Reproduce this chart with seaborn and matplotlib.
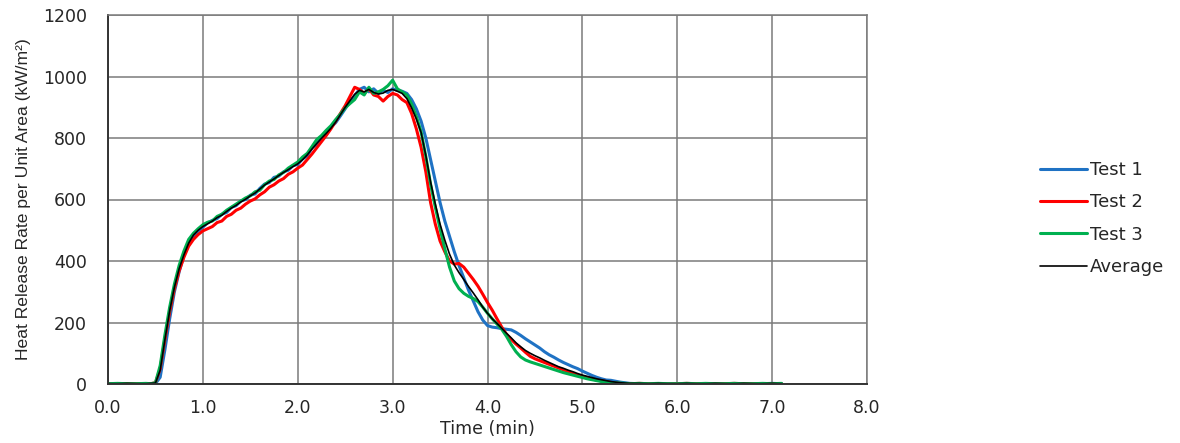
import matplotlib
matplotlib.use("Agg")
import matplotlib.pyplot as plt
import seaborn as sns
import pandas as pd

# ---- data ----
time_min = [0.0, 0.1, 0.2, 0.3, 0.4, 0.45,
            0.50, 0.55, 0.60, 0.65, 0.70, 0.75, 0.80, 0.85, 0.90, 0.95,
            1.00, 1.05, 1.10, 1.15, 1.20, 1.25, 1.30, 1.35, 1.40, 1.45,
            1.50, 1.55, 1.60, 1.65, 1.70, 1.75, 1.80, 1.85, 1.90, 1.95,
            2.00, 2.05, 2.10, 2.15, 2.20, 2.25, 2.30, 2.35, 2.40, 2.45,
            2.50, 2.55, 2.60, 2.65, 2.70, 2.75, 2.80, 2.85, 2.90, 2.95,
            3.00, 3.05, 3.10, 3.15, 3.20, 3.25, 3.30, 3.35, 3.40, 3.45,
            3.50, 3.55, 3.60, 3.65, 3.70, 3.75, 3.80, 3.85, 3.90, 3.95,
            4.00, 4.05, 4.10, 4.15, 4.20, 4.25, 4.30, 4.35, 4.40, 4.45,
            4.50, 4.55, 4.60, 4.65, 4.70, 4.75, 4.80, 4.85, 4.90, 4.95,
            5.00, 5.05, 5.10, 5.15, 5.20, 5.25, 5.30, 5.35, 5.40, 5.45,
            5.5, 5.6, 5.7, 5.8, 5.9, 6.0, 6.1, 6.2, 6.3, 6.4, 6.5, 6.6, 6.7, 6.8, 6.9, 7.0, 7.1]

test1 = [0, 1, 0, 1, 0, 1,
         1, 22, 112, 212, 300, 365, 418, 456, 480, 497,
         510, 524, 532, 538, 552, 558, 574, 580, 595, 600,
         614, 618, 636, 650, 655, 672, 676, 690, 695, 710,
         714, 732, 742, 768, 780, 802, 812, 835, 850, 872,
         895, 918, 938, 958, 965, 950, 960, 945, 955, 948,
         960, 955, 952, 945, 925, 895, 855, 800, 730, 660,
         590, 530, 480, 430, 385, 345, 305, 270, 235, 208,
         190, 185, 183, 180, 178, 176, 168, 158, 147, 137,
         127, 117, 105, 95, 87, 78, 70, 63, 56, 50,
         42, 35, 28, 22, 17, 13, 12, 9, 6, 4,
         2, 1, 1, 0, 1, 1, 0, 1, 1, 0, 1, 1, 0, 1, 1, 2, 1]

test2 = [1, 0, 1, 1, 0, 1,
         4, 50, 145, 235, 310, 368, 412, 448, 470, 486,
         498, 505, 512, 525, 530, 545, 552, 565, 572, 585,
         595, 602, 615, 625, 640, 648, 660, 668, 682, 690,
         702, 712, 730, 748, 768, 788, 808, 830, 855, 880,
         905, 935, 965, 958, 945, 960, 940, 935, 920, 935,
         945, 940, 925, 915, 880, 830, 770, 690, 590, 520,
         465, 430, 400, 390, 392, 380, 360, 340, 318, 292,
         265, 240, 212, 185, 162, 145, 130, 117, 103, 90,
         82, 76, 70, 64, 58, 52, 46, 40, 34, 29,
         24, 20, 16, 13, 10, 8, 5, 3, 2, 1,
         1, 2, 1, 1, 0, 1, 2, 1, 1, 0, 1, 2, 1, 1, 0, 1, 1]

test3 = [1, 2, 1, 1, 2, 1,
         4, 60, 160, 250, 325, 386, 432, 470, 490, 505,
         518, 526, 530, 545, 552, 565, 575, 585, 595, 605,
         612, 625, 630, 648, 660, 665, 680, 688, 702, 712,
         722, 738, 750, 772, 795, 808, 825, 840, 860, 878,
         898, 912, 925, 950, 940, 965, 945, 950, 958, 970,
         988, 960, 950, 940, 910, 870, 820, 740, 650, 575,
         505, 440, 380, 335, 310, 295, 285, 278, 268, 250,
         230, 212, 195, 178, 155, 128, 105, 88, 78, 72,
         67, 62, 57, 52, 47, 42, 37, 33, 29, 25,
         21, 17, 14, 11, 8, 6, 5, 4, 3, 2,
         1, 2, 1, 2, 1, 1, 2, 1, 2, 1, 1, 2, 1, 1, 2, 1, 2]

average = [1, 1, 2, 1, 1, 2,
           3, 45, 145, 238, 315, 375, 420, 458, 484, 500,
           512, 521, 530, 541, 549, 561, 572, 581, 592, 601,
           612, 621, 634, 647, 657, 667, 678, 688, 697, 707,
           716, 729, 745, 764, 782, 799, 815, 832, 852, 876,
           900, 921, 942, 955, 950, 958, 948, 943, 946, 955,
           958, 952, 945, 928, 898, 862, 818, 743, 657, 585,
           520, 468, 422, 387, 362, 340, 317, 296, 274, 250,
           230, 212, 197, 181, 165, 150, 134, 121, 109, 100,
           92, 85, 77, 70, 63, 56, 51, 45, 40, 34,
           29, 25, 21, 17, 14, 11, 8, 6, 4, 3,
           2, 2, 1, 2, 1, 1, 2, 1, 1, 2, 1, 1, 2, 1, 1, 2, 1]

series_names = ["Test 1", "Test 2", "Test 3", "Average"]
x_ticks = [0.0, 1.0, 2.0, 3.0, 4.0, 5.0, 6.0, 7.0, 8.0]
y_ticks = [0, 200, 400, 600, 800, 1000, 1200]

# ---- styling ----
sns.set_style("white")
plt.rcParams["font.family"] = ["DejaVu Sans"]

colors = ["#1f72c4", "#ff0000", "#00b050", "#000000"]
widths = [2.2, 2.2, 2.2, 1.2]
text_col = "#262626"

fig = plt.figure(figsize=(11.8, 4.43), dpi=100)
ax = fig.add_axes([108 / 1180, 1 - 384 / 443, (867 - 108) / 1180, (384 - 15) / 443])

for name, vals, c, lw in zip(series_names, [test1, test2, test3, average], colors, widths):
    df = pd.DataFrame({"t": time_min, "v": vals})
    sns.lineplot(data=df, x="t", y="v", ax=ax, color=c, linewidth=lw, label=name)

ax.set_xlim(0, 8)
ax.set_ylim(0, 1200)
ax.set_xticks(x_ticks)
ax.set_xticklabels([f"{v:.1f}" for v in x_ticks])
ax.set_yticks(y_ticks)
ax.set_yticklabels([str(v) for v in y_ticks])
ax.tick_params(axis="both", labelsize=12.5, colors=text_col, length=0)
ax.tick_params(axis="y", pad=15)
ax.tick_params(axis="x", pad=11)
ax.grid(True, color="#7a7a7a", linewidth=1.1)
ax.set_axisbelow(True)
for side in ["top", "right"]:
    ax.spines[side].set_color("#7a7a7a")
    ax.spines[side].set_linewidth(1.1)
for side in ["left", "bottom"]:
    ax.spines[side].set_color("#333333")
    ax.spines[side].set_linewidth(1.4)

ax.set_xlabel("Time (min)", fontsize=12.5, color=text_col, labelpad=2)
ax.set_ylabel("Heat Release Rate per Unit Area (kW/m²)", fontsize=12.6, color=text_col,
              labelpad=9, fontfamily=["Liberation Sans", "DejaVu Sans"])

handles, labels = ax.get_legend_handles_labels()
ax.get_legend().remove()
fig.legend(handles, labels, loc="center left", bbox_to_anchor=(1024 / 1180, 1 - 218.5 / 443),
           frameon=False, fontsize=13, handlelength=2.6, handletextpad=0.15, labelspacing=0.8)

fig.savefig("out.png", dpi=100)
